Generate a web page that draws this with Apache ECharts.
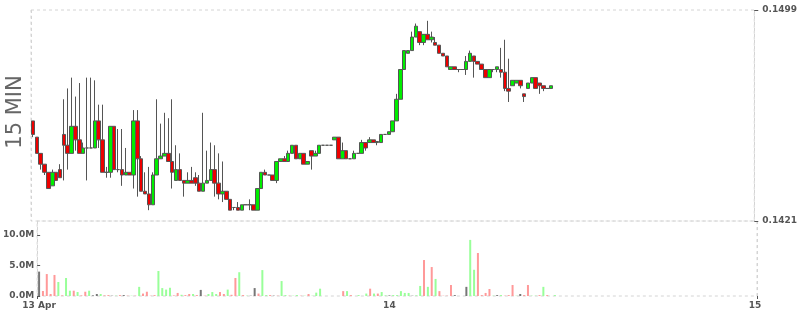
<!DOCTYPE html>
<html><head><meta charset="utf-8">
<script src="https://cdn.jsdelivr.net/npm/echarts@6/dist/echarts.min.js"></script>
<style>html,body{margin:0;padding:0;background:#fff}#c{width:800px;height:315px}</style>
</head><body><div id="c"></div>
<script>
const openP = [
.1458,.1452,.1446,.1442,.1439,.1434,.1439,.1440,.1453,.1449,
.1446,.1456,.1451,.1446,.1448,.1448,.1448,.1458,.1451,.1439,
.1439,.1456,.1440,.1440,.1438,.1439,.1438,.1458,.1444,.1432,
.1431,.1427,.1438,.1444,.1445,.1446,.1443,.1436,.1440,.1436,
.1435,.1436,.1437,.1435,.1432,.1435,.1436,.1440,.1435,.1431,
.1432,.1429,.1426,.1426,.1425,.1427,.1427,.1427,.1425,.1433,
.1439,.1438,.1438,.1436,.1443,.1444,.1443,.1446,.1449,.1444,
.1446,.1442,.1447,.1445,.1446,.1449,.1449,.1449,.1451,.1452,
.1444,.1447,.1444,.1444,.1446,.1446,.1450,.1450,.1451,.1450,
.1450,.1453,.1453,.1454,.1458,.1466,.1477,.1483,.1484,.1489,
.1491,.1487,.1490,.1488,.1487,.1486,.1483,.1482,.1477,.1478,
.1477,.1477,.1477,.1480,.1482,.1480,.1479,.1477,.1474,.1477,
.1477,.1477,.1476,.1470,.1471,.1472,.1473,.1468,.1470,.1472,
.1474,.1472,.1471,.1470,.1470];
const closeP = [
.1453,.1446,.1442,.1439,.1433,.1439,.1436,.1437,.1449,.1446,
.1456,.1451,.1446,.1448,.1448,.1448,.1458,.1451,.1439,.1439,
.1456,.1440,.1440,.1438,.1439,.1438,.1458,.1444,.1432,.1431,
.1427,.1438,.1444,.1445,.1446,.1443,.1439,.1440,.1436,.1435,
.1436,.1435,.1435,.1432,.1435,.1436,.1440,.1435,.1431,.1432,
.1429,.1425,.1426,.1425,.1427,.1427,.1427,.1425,.1433,.1439,
.1438,.1438,.1436,.1443,.1444,.1443,.1446,.1449,.1444,.1446,
.1442,.1443,.1445,.1446,.1449,.1449,.1449,.1449,.1452,.1444,
.1447,.1444,.1444,.1446,.1446,.1450,.1448,.1451,.1450,.14504,
.1453,.1453,.1454,.1458,.1466,.1477,.1484,.1484,.1489,.1493,
.1487,.1490,.1488,.1489,.1486,.1483,.1482,.1478,.1478,.1477,
.1477,.1477,.1480,.1483,.1480,.1479,.1477,.1474,.1477,.1477,
.1478,.1476,.1470,.1469,.1473,.1473,.1471,.1467,.1472,.1474,
.1470,.1471,.1470,.1470,.1471];
const lowP = [
.1452,.1446,.1440,.1438,.1433,.1434,.1436,.1437,.1436,.1440,
.1446,.1447,.1446,.1446,.1436,.1448,.1448,.1448,.1439,.1437,
.1437,.1440,.1439,.1434,.1438,.1438,.1433,.1430,.1432,.1431,
.1425,.1427,.1438,.1444,.1445,.1443,.1433,.1436,.1436,.1430,
.1435,.1435,.1434,.1432,.1432,.1435,.1436,.1430,.1429,.1428,
.1429,.1425,.1425,.1425,.1425,.1427,.1425,.1425,.1425,.1433,
.1438,.1438,.1436,.1435,.1443,.1443,.1443,.1446,.1444,.1444,
.1442,.1442,.1440,.1445,.1446,.1449,.1449,.1449,.1451,.1444,
.1444,.1444,.1444,.1444,.1446,.1446,.1447,.1450,.1450,.1449,
.1450,.1453,.1453,.1454,.1458,.1466,.1477,.1483,.1484,.1489,
.1486,.1486,.1488,.1487,.1486,.1483,.1482,.1478,.1477,.1477,
.1476,.1477,.1475,.1480,.1474,.1479,.1477,.1474,.1474,.1476,
.1476,.1474,.1469,.1465,.1471,.1472,.1470,.1465,.1470,.1472,
.1470,.1468,.1469,.1470,.1470];
const highP = [
.1458,.1452,.1446,.1442,.1439,.1440,.1439,.1442,.1466,.1470,
.1474,.1467,.1472,.1450,.1474,.1474,.1473,.1464,.1464,.1441,
.1456,.1456,.1455,.1455,.1448,.1439,.1462,.1462,.1445,.1439,
.1441,.1439,.1466,.1457,.1461,.1459,.1466,.1449,.1446,.1436,
.1439,.1441,.1439,.1438,.1461,.1447,.1450,.1449,.1446,.1443,
.1432,.1429,.1426,.1428,.1427,.1427,.1429,.1427,.1433,.1439,
.1440,.1438,.1438,.1443,.1444,.1445,.1447,.1449,.1449,.1446,
.1446,.1443,.1447,.1447,.1449,.1449,.1449,.1449,.1452,.1452,
.1450,.1447,.1444,.1447,.1446,.1451,.1450,.1452,.1451,.14504,
.1453,.1453,.1454,.1458,.1468,.1477,.1484,.1484,.1491,.1494,
.1491,.1490,.1495,.1491,.1489,.1486,.1483,.1482,.1478,.1478,
.1477,.1477,.1482,.1484,.1482,.1480,.1479,.1477,.1477,.1477,
.1478,.1485,.1488,.1481,.1473,.1473,.1473,.1468,.1472,.1474,
.1474,.1472,.1471,.1470,.1471];
const volumeM = [
4.0,0.82,3.6,0.33,3.45,2.3,0.1,2.95,0.87,0.87,
0.65,0.1,0.7,0.87,0.1,0.33,0.33,0.1,0.15,0.05,
0.05,0.15,0.15,0.05,0.05,0.05,1.5,0.4,0.7,0.05,
0.15,4.1,1.3,1.05,1.35,0.1,0.5,0.2,0.15,0.33,
0.33,0.15,1.0,0.05,0.33,0.65,0.33,0.65,0.33,1.05,
0.2,2.95,3.9,0.15,0.05,0.05,1.3,0.4,4.25,0.15,
0.15,0.05,0.05,2.45,0.15,0.05,0.05,0.15,0.05,0.05,
0.33,0.05,0.55,1.2,0,0,0,0,0,0.8,
0.8,0.15,0,0.15,0,0.4,1.2,0.4,0.4,0.65,
0.1,0.1,0.15,0.15,0.8,0.5,0.5,0.05,0.1,1.65,
5.9,1.5,4.75,2.8,0.8,0.05,0.05,1.8,0.15,0,
0,1.5,9.2,4.3,7.05,0.15,0.5,1.15,0.05,0.15,
0.15,0.05,0.15,1.8,0.05,0.33,0.15,1.8,0.05,0.05,
0.15,1.5,0.15,0,0.15];
const slotCount = 187;
const slotStart = '2017-04-13T01:15:00Z';
const tickIndex = [0, 91, 186];
const tickText = ['13 Apr', '14', '15'];
const dayLineIndex = [91];
const priceTicks = [0.1421, 0.1499];
const volumeTicks = [0, 5, 10];

const categories = [];
const t0 = Date.parse(slotStart);
for (let i = 0; i < slotCount; i++) {
  const d = new Date(t0 + i * 15 * 60000);
  categories.push(d.toISOString().slice(5, 16).replace('T', ' '));
}
const candleData = openP.map((o, i) => [o, closeP[i], lowP[i], highP[i]]);

const chart = echarts.init(document.getElementById('c'), null, {renderer: 'canvas'});
const dash = [3, 3];
const gridStyle = {show: true, borderColor: '#d4d4d4', borderWidth: 1, borderType: dash, backgroundColor: 'transparent'};
const labelFont = {color: '#555', fontSize: 9, fontWeight: 'bold', fontFamily: 'DejaVu Sans'};
chart.setOption({
  animation: false,
  grid: [
    Object.assign({left: 31, right: 43, top: 10, height: 211}, gridStyle),
    Object.assign({left: 31, right: 43, top: 221, height: 75}, gridStyle)
  ],
  graphic: [{
    type: 'text', x: 16, y: 112, rotation: Math.PI / 2,
    style: {text: '15 MIN', font: '21px "DejaVu Sans"', fill: '#666', textAlign: 'center', textVerticalAlign: 'middle'}
  }],
  xAxis: [
    {type: 'category', gridIndex: 0, data: categories, boundaryGap: true,
     axisLine: {show: false}, axisTick: {show: false}, axisLabel: {show: false},
     splitLine: {show: true, interval: (i) => dayLineIndex.includes(i), lineStyle: {color: '#d4d4d4', type: dash}}},
    {type: 'category', gridIndex: 1, data: categories, boundaryGap: true,
     axisLine: {show: false},
     axisTick: {show: true, interval: (i) => dayLineIndex.includes(i), length: 3, lineStyle: {color: '#555'}},
     axisLabel: Object.assign({show: true, margin: 5, interval: (i) => tickIndex.includes(i),
       formatter: (v, i) => tickText[tickIndex.indexOf(i)] || ''}, labelFont),
     splitLine: {show: true, interval: (i) => dayLineIndex.includes(i), lineStyle: {color: '#d4d4d4', type: dash}}}
  ],
  yAxis: [
    {type: 'value', gridIndex: 0, position: 'right', min: priceTicks[0], max: priceTicks[1], interval: +(priceTicks[1] - priceTicks[0]).toFixed(4),
     axisLine: {show: false}, splitLine: {show: false},
     axisTick: {show: true, length: 4, lineStyle: {color: '#555'}},
     axisLabel: Object.assign({margin: 8, formatter: (v) => v.toFixed(4)}, labelFont)},
    {type: 'value', gridIndex: 1, position: 'left', min: volumeTicks[0], max: 12.3, interval: volumeTicks[1] - volumeTicks[0],
     axisLine: {show: false}, splitLine: {show: false},
     axisTick: {show: true, inside: true, length: 3, lineStyle: {color: '#555'}},
     axisLabel: Object.assign({margin: 3, showMaxLabel: false, formatter: (v) => v.toFixed(1) + 'M'}, labelFont)}
  ],
  series: [
    {type: 'candlestick', xAxisIndex: 0, yAxisIndex: 0, data: candleData, barWidth: 4,
     itemStyle: {color: '#00ee00', color0: '#ee0000', borderColor: '#555', borderColor0: '#555', borderColorDoji: '#555', borderWidth: 1}},
    {type: 'bar', xAxisIndex: 1, yAxisIndex: 1, data: volumeM, barWidth: 2,
     itemStyle: {color: (p) => {
       const i = p.dataIndex;
       if (i === 0) return '#777';
       if (closeP[i] > closeP[i - 1]) return '#99ff99';
       if (closeP[i] < closeP[i - 1]) return '#ff9999';
       return '#777';
     }}}
  ]
});
</script></body></html>
